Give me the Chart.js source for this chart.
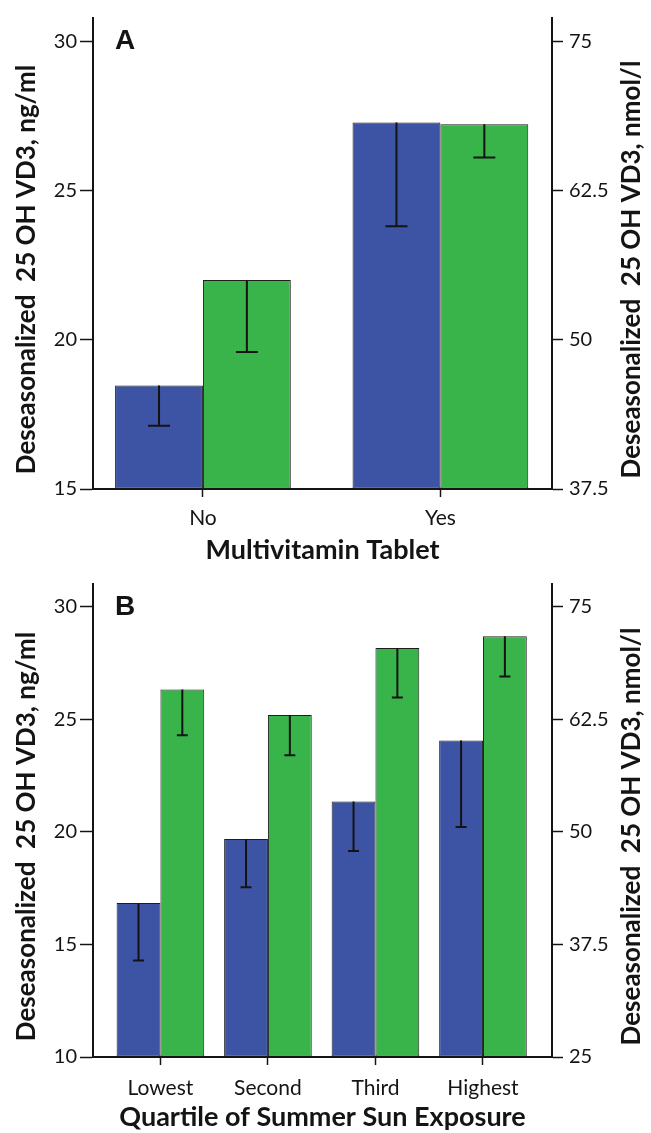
<!DOCTYPE html>
<html>
<head>
<meta charset="utf-8">
<script src="https://cdn.jsdelivr.net/npm/chart.js@4.4.1/dist/chart.umd.min.js"></script>
<style>
  body { margin: 0; background: #fff; }
  canvas { display: block; }
</style>
</head>
<body>
<canvas id="chartA" width="651" height="566"></canvas>
<canvas id="chartB" width="651" height="567"></canvas>
<script>
// Panel A: multivitamin tablet
const catsA = ["No", "Yes"];
const blueA = [18.47, 27.28];
const blueALow = [17.12, 23.80];
const greenA = [22.0, 27.22];
const greenALow = [19.59, 26.11];
const yRangeA = [15, 30.78];
const xRangeA = [-0.463, 1.470];

// Panel B: quartile of summer sun exposure
const catsB = ["Lowest", "Second", "Third", "Highest"];
const blueB = [16.84, 19.69, 21.35, 24.06];
const blueBLow = [14.29, 17.54, 19.15, 20.22];
const greenB = [26.33, 25.20, 28.18, 28.70];
const greenBLow = [24.30, 23.41, 25.98, 26.91];
const yRangeB = [10, 31.02];
const xRangeB = [-0.627, 3.642];

const NG_TO_NMOL = 2.5;
const FONT = 'Lato, "Open Sans", sans-serif';
const BLUE = "#3d53a3";
const GREEN = "#38b44b";
const INK = "#141414";

// error bars (lower whisker only), panel letter and the two rotated axis titles
const decor = {
  id: "decor",
  afterDatasetsDraw(chart) {
    const ctx = chart.ctx, y = chart.scales.y;
    ctx.save();
    ctx.strokeStyle = INK;
    ctx.lineWidth = 2;
    chart.data.datasets.forEach((ds, i) => {
      chart.getDatasetMeta(i).data.forEach((bar, j) => {
        const yLow = y.getPixelForValue(ds.lower[j]);
        const half = bar.width * 0.125;
        ctx.beginPath();
        ctx.moveTo(bar.x, bar.y);
        ctx.lineTo(bar.x, yLow);
        ctx.moveTo(bar.x - half, yLow);
        ctx.lineTo(bar.x + half, yLow);
        ctx.stroke();
      });
    });
    ctx.restore();
  },
  afterDraw(chart, args, opts) {
    const ctx = chart.ctx, area = chart.chartArea;
    ctx.save();
    ctx.fillStyle = INK;
    ctx.font = 'bold 28px "Liberation Sans", Arial, sans-serif';
    ctx.textAlign = "left";
    ctx.textBaseline = "alphabetic";
    ctx.fillText(opts.letter, area.left + 22, area.top + 31);

    const cy = (area.top + area.bottom) / 2 + 16;
    ctx.font = "bold 26px " + FONT;
    ctx.textAlign = "center";
    ctx.textBaseline = "middle";
    [[27, opts.leftTitle], [632, opts.rightTitle]].forEach(([x, txt]) => {
      ctx.save();
      ctx.translate(x, cy);
      ctx.rotate(-Math.PI / 2);
      ctx.fillText(txt, 0, 0);
      ctx.restore();
    });
    ctx.restore();
  }
};

function axisLine() {
  return { display: true, color: INK, width: 2 };
}

function makeChart(id, cats, blue, blueLow, green, greenLow, yRange, xRange, opt) {
  const ctx = document.getElementById(id).getContext("2d");
  return new Chart(ctx, {
    type: "bar",
    data: {
      datasets: [
        {
          label: "blue",
          data: blue.map((v, i) => ({ x: i, y: v })),
          lower: blueLow,
          backgroundColor: BLUE,
          borderColor: "#1e1e1e",
          borderWidth: 1,
          borderSkipped: false,
          base: yRange[0]
        },
        {
          label: "green",
          data: green.map((v, i) => ({ x: i, y: v })),
          lower: greenLow,
          backgroundColor: GREEN,
          borderColor: "#1e1e1e",
          borderWidth: 1,
          borderSkipped: false,
          base: yRange[0]
        }
      ]
    },
    options: {
      responsive: false,
      animation: false,
      categoryPercentage: opt.groupPct,
      barPercentage: 1,
      layout: { padding: { top: opt.top, left: 0, right: 0, bottom: 0 } },
      plugins: {
        legend: { display: false },
        tooltip: { enabled: false },
        decor: { letter: opt.letter, leftTitle: "Deseasonalized  25 OH VD3, ng/ml", rightTitle: "Deseasonalized  25 OH VD3, nmol/l" }
      },
      scales: {
        x: {
          type: "linear",
          min: xRange[0],
          max: xRange[1],
          offset: false,
          afterBuildTicks: s => { s.ticks = cats.map((c, i) => ({ value: i })); },
          afterFit: s => { s.height = opt.xHeight; },
          grid: { offset: false, drawOnChartArea: false, drawTicks: true, tickLength: 8, tickColor: INK, tickWidth: 1.5 },
          border: axisLine(),
          ticks: {
            callback: (v) => cats[v],
            autoSkip: false,
            maxRotation: 0,
            padding: opt.tickPad,
            color: INK,
            font: { family: FONT, size: 21 }
          },
          title: {
            display: true,
            text: opt.xTitle,
            color: INK,
            font: { family: FONT, size: 27, weight: "bold" },
            padding: { top: 0, bottom: opt.titlePad }
          }
        },
        y: {
          position: "left",
          min: yRange[0],
          max: yRange[1],
          afterFit: s => { s.width = 93; },
          grid: { drawOnChartArea: false, drawTicks: true, tickLength: 13, tickColor: INK, tickWidth: 1.5 },
          border: axisLine(),
          ticks: {
            stepSize: 5,
            includeBounds: false,
            padding: 3,
            color: INK,
            font: { family: FONT, size: 20 }
          }
        },
        y2: {
          position: "right",
          min: yRange[0] * NG_TO_NMOL,
          max: yRange[1] * NG_TO_NMOL,
          afterFit: s => { s.width = 99; },
          grid: { drawOnChartArea: false, drawTicks: true, tickLength: 11, tickColor: INK, tickWidth: 1.5 },
          border: axisLine(),
          ticks: {
            stepSize: 12.5,
            includeBounds: false,
            padding: 6,
            color: INK,
            font: { family: FONT, size: 20 }
          }
        }
      }
    },
    plugins: [decor]
  });
}

makeChart("chartA", catsA, blueA, blueALow, greenA, greenALow, yRangeA, xRangeA,
  { groupPct: 0.74, top: 12, xHeight: 77, tickPad: 9, titlePad: 0, letter: "A", xTitle: "Multivitamin Tablet" });
makeChart("chartB", catsB, blueB, blueBLow, greenB, greenBLow, yRangeB, xRangeB,
  { groupPct: 0.815, top: 11, xHeight: 76, tickPad: 11, titlePad: 0, letter: "B", xTitle: "Quartile of Summer Sun Exposure" });
</script>
</body>
</html>
